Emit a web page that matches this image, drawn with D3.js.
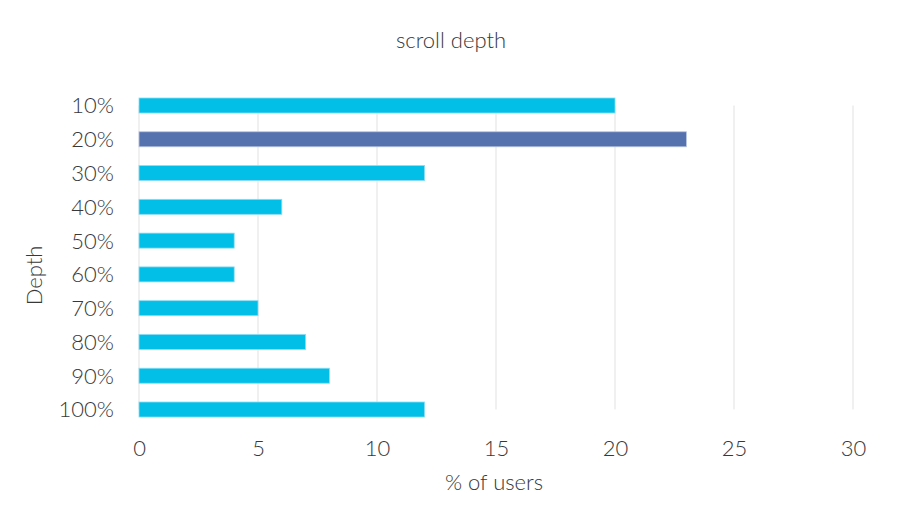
<!DOCTYPE html>
<html>
<head>
<meta charset="utf-8">
<script src="https://cdn.jsdelivr.net/npm/d3@7"></script>
<style>
  html, body { margin: 0; padding: 0; background: #ffffff; }
  svg { display: block; }
  text { font-family: Lato, "Open Sans", sans-serif; font-weight: 300; fill: #383838; }
</style>
</head>
<body>
<svg id="chart" width="900" height="526"></svg>
<script>
const categories = ["10%", "20%", "30%", "40%", "50%", "60%", "70%", "80%", "90%", "100%"];
const values = [20, 23, 12, 6, 4, 4, 5, 7, 8, 12];
const highlighted = ["20%"];
const xTicks = [0, 5, 10, 15, 20, 25, 30];
const titleText = "scroll depth";
const xLabel = "% of users";
const yLabel = "Depth";

(function () {
const svg = d3.select("#chart");
const W = 900, H = 526;
const mLeft = 139, mRight = 853, mTop = 88.6, mBottom = 426.4;
const fs = "22px";

svg.append("rect").attr("width", W).attr("height", H).attr("fill", "#ffffff");

const x = d3.scaleLinear().domain([0, 30]).range([mLeft, mRight]);
const y = d3.scaleBand().domain(categories).range([mTop, mBottom])
  .paddingInner(0.556).paddingOuter(0.278);

const yStart = y(categories[0]) + y.bandwidth() / 2;
const yEnd = y(categories[categories.length - 1]) + y.bandwidth() / 2;

// gridlines
svg.append("g").selectAll("line").data(xTicks).join("line")
  .attr("x1", d => x(d)).attr("x2", d => x(d))
  .attr("y1", yStart).attr("y2", yEnd)
  .attr("stroke", "#ebebeb").attr("stroke-width", 1.5);

// bars
const data = categories.map((c, i) => ({ c, v: values[i] }));
svg.append("g").selectAll("rect").data(data).join("rect")
  .attr("x", x(0))
  .attr("y", d => y(d.c))
  .attr("width", d => x(d.v) - x(0))
  .attr("height", y.bandwidth())
  .attr("fill", d => highlighted.includes(d.c) ? "#5571ae" : "#02bfe7")
  .attr("stroke", d => highlighted.includes(d.c) ? "#b8c4e0" : "#8ddcf3")
  .attr("stroke-width", 0.8);

// y axis labels
const yAxis = d3.axisLeft(y).tickSize(0).tickPadding(0);
const gy = svg.append("g").attr("transform", `translate(${mLeft - 25},0)`).call(yAxis);
gy.select(".domain").remove();
gy.selectAll("text").style("font-size", fs).attr("fill", "#383838")
  .attr("font-family", "Lato, sans-serif").attr("dy", "0.36em");

// x axis labels
const xAxis = d3.axisBottom(x).tickValues(xTicks).tickSize(0).tickPadding(0).tickFormat(d3.format("d"));
const gx = svg.append("g").attr("transform", `translate(0,${yEnd + 46})`).call(xAxis);
gx.select(".domain").remove();
gx.selectAll("text").style("font-size", fs).attr("fill", "#383838")
  .attr("font-family", "Lato, sans-serif").attr("dy", "0");

// title
svg.append("text").attr("x", 451).attr("y", 48).attr("text-anchor", "middle")
  .style("font-size", fs).text(titleText);

// x label
svg.append("text").attr("x", (mLeft + mRight) / 2 - 2).attr("y", 490).attr("text-anchor", "middle")
  .style("font-size", fs).text(xLabel);

// y label
svg.append("text")
  .attr("transform", `translate(42,${(yStart + yEnd) / 2 + 18}) rotate(-90)`)
  .attr("text-anchor", "middle")
  .style("font-size", fs).text(yLabel);
})();
</script>
</body>
</html>
